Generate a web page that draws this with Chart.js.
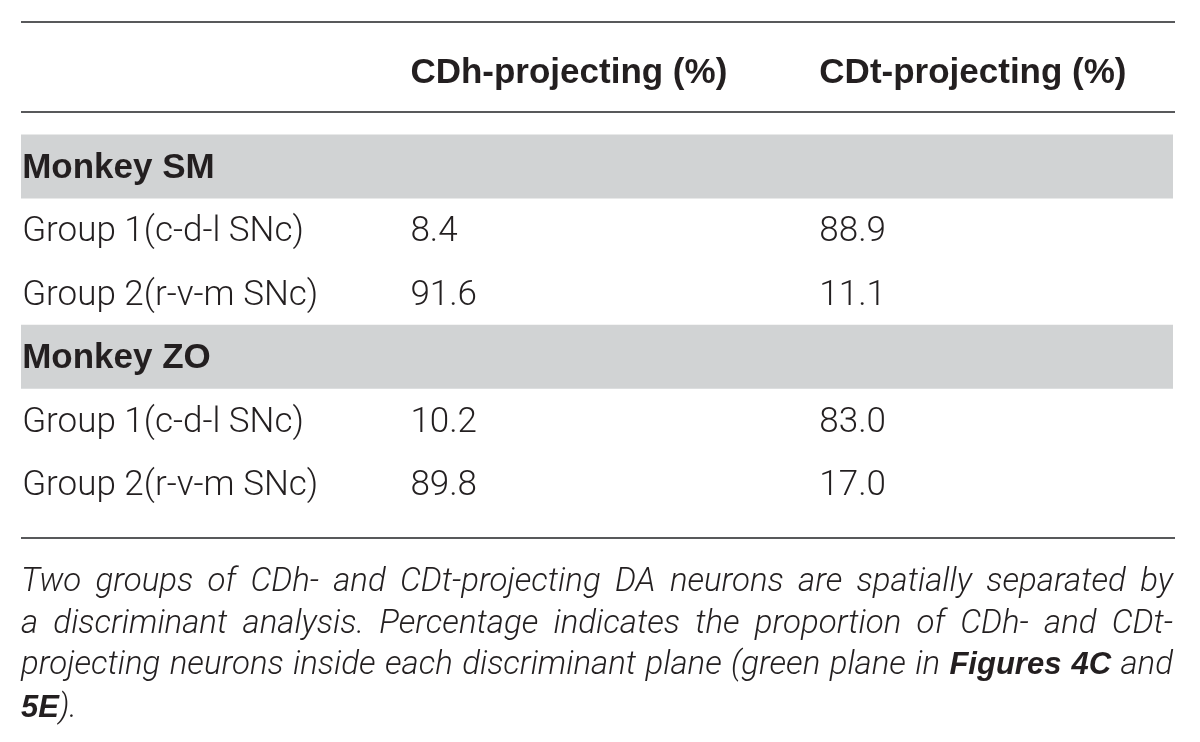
<!DOCTYPE html>
<html>
<head>
<meta charset="utf-8">
<script src="https://cdn.jsdelivr.net/npm/chart.js@4.4.1/dist/chart.umd.min.js"></script>
<style>
  html, body { margin: 0; padding: 0; background: #fff; }
  body { width: 1200px; height: 742px; position: relative; overflow: hidden; }
  #wrap { position: absolute; left: 0; top: 0; width: 1200px; height: 560px; }
  #caption {
    position: absolute; left: 21px; top: 559px; width: 1152px;
    font-family: Roboto, 'Liberation Sans', sans-serif; font-weight: 300; font-style: italic;
    font-size: 33px; line-height: 41.5px; color: #231f20;
  }
  #caption div { text-align: justify; text-align-last: justify; }
  #caption div.last { text-align-last: left; }
  #caption b { font-weight: 700; font-family: 'Liberation Sans', sans-serif; font-size: 31px; }
</style>
</head>
<body>
<div id="wrap"><canvas id="table-chart" width="1200" height="560"></canvas></div>
<div id="caption">
  <div>Two groups of CDh- and CDt-projecting DA neurons are spatially separated by</div>
  <div>a discriminant analysis. Percentage indicates the proportion of CDh- and CDt-</div>
  <div>projecting neurons inside each discriminant plane (green plane in <b>Figures 4C</b> and</div>
  <div class="last"><b>5E</b>).</div>
</div>
<script>
const columnLabels = ['CDh-projecting (%)', 'CDt-projecting (%)'];
const rowLabels = ['Monkey SM', 'Group 1(c-d-l SNc)', 'Group 2(r-v-m SNc)',
                   'Monkey ZO', 'Group 1(c-d-l SNc)', 'Group 2(r-v-m SNc)'];
const cdhValues = [null, 8.4, 91.6, null, 10.2, 89.8];
const cdtValues = [null, 88.9, 11.1, null, 83.0, 17.0];
const groupRows = ['Monkey SM', 'Monkey ZO'];

const textColor = '#231f20';
const ruleColor = '#58595b';
const boldFont = 'bold 35px "Liberation Sans", Arial, sans-serif';
const lightFont = '300 35px Roboto, "Liberation Sans", sans-serif';
const baselineOffset = 11.5;
// column starts, in table-width units (0 = left edge, 1 = right edge)
const columnStarts = [0.001, 0.338, 0.693];

// draws the rules and every cell's text on top of the row bands
const tableText = {
    id: 'tableText',
    afterDatasetsDraw(chart) {
        const { ctx, chartArea, scales: { x, y } } = chart;
        const colX = columnStarts.map(v => x.getPixelForValue(v));

        ctx.save();
        ctx.strokeStyle = ruleColor;
        ctx.lineWidth = 2;
        [-2.28, -0.867, 5.86].forEach(v => {
            const py = Math.round(y.getPixelForValue(v));
            ctx.beginPath();
            ctx.moveTo(chartArea.left, py);
            ctx.lineTo(chartArea.right + 2, py);
            ctx.stroke();
        });

        ctx.fillStyle = textColor;
        ctx.textAlign = 'left';
        ctx.textBaseline = 'alphabetic';

        // header row
        ctx.font = boldFont;
        columnLabels.forEach((label, i) => {
            ctx.fillText(label, colX[i + 1], y.getPixelForValue(-1.5) + baselineOffset);
        });

        // body rows
        rowLabels.forEach((label, i) => {
            const py = y.getPixelForValue(i) + baselineOffset;
            ctx.font = groupRows.includes(label) ? boldFont : lightFont;
            ctx.fillText(label, colX[0], py);
            ctx.font = lightFont;
            if (cdhValues[i] !== null) ctx.fillText(cdhValues[i].toFixed(1), colX[1], py);
            if (cdtValues[i] !== null) ctx.fillText(cdtValues[i].toFixed(1), colX[2], py);
        });
        ctx.restore();
    }
};

function createTableChart() {
    const ctx = document.getElementById('table-chart').getContext('2d');
    return new Chart(ctx, {
        type: 'bar',
        data: {
            datasets: [{
                // grey band behind each monkey heading row
                data: rowLabels.map((label, i) => ({
                    y: i,
                    x: groupRows.includes(label) ? [0, 1] : null
                })),
                backgroundColor: '#d1d3d4',
                borderWidth: 0,
                barPercentage: 1,
                categoryPercentage: 1,
                grouped: false
            }]
        },
        options: {
            indexAxis: 'y',
            responsive: false,
            animation: false,
            layout: { padding: { left: 21, right: 27, top: 0, bottom: 0 } },
            scales: {
                x: { type: 'linear', min: 0, max: 1, display: false, offset: false },
                y: {
                    type: 'linear', min: -2.626, max: 6.207, reverse: true,
                    display: false, offset: false,
                    // keep only whole-row ticks so each band is one row tall
                    afterBuildTicks: scale => {
                        scale.ticks = scale.ticks.filter(t => Number.isInteger(t.value));
                    }
                }
            },
            plugins: {
                legend: { display: false },
                tooltip: { enabled: false }
            }
        },
        plugins: [tableText]
    });
}

createTableChart();
</script>
</body>
</html>
